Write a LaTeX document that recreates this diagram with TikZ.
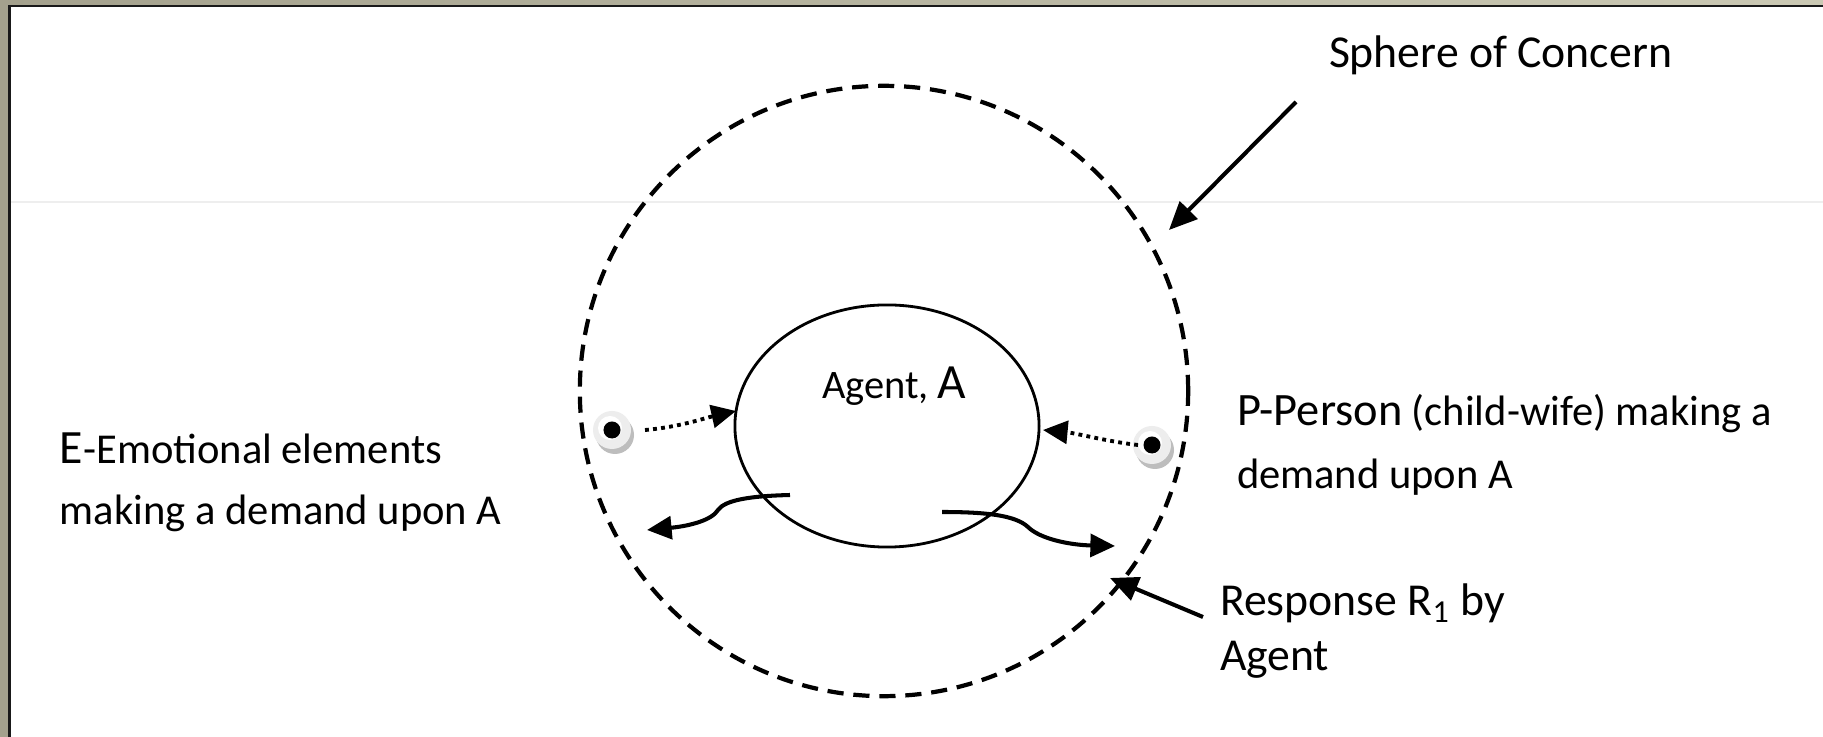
\documentclass[tikz,border=0pt]{standalone}
\usepackage{fontspec}
\setmainfont{Carlito}
\usetikzlibrary{arrows.meta,shapes.geometric}
\definecolor{frameL}{HTML}{A4A18D}
\definecolor{frameR}{HTML}{CBC9B4}
\definecolor{faintline}{HTML}{EEEEEE}
\definecolor{btnface}{HTML}{EDEDED}
\definecolor{btnshadow}{HTML}{BDBDBD}
\begin{document}
\begin{tikzpicture}[x=0.01cm,y=-0.01cm,
  txt/.style={anchor=base west,inner sep=0pt,outer sep=0pt,font=\fontsize{12.1}{14.8}\selectfont},
  bigtxt/.style={txt,font=\fontsize{13}{15.9}\selectfont},
  pointer/.style={line width=1.15pt,-{Triangle[length=8pt,width=7pt]}},
  demand/.style={line width=1.1pt,dash pattern=on 1.1pt off 1.2pt,-{Triangle[length=7pt,width=6.5pt]}},
  resp/.style={line width=1.15pt,-{Triangle[length=7pt,width=6.5pt]}},
  sphere/.style={draw,ellipse,inner sep=0pt,outer sep=0pt,line width=1.2pt,dash pattern=on 4.6pt off 2.8pt,minimum width=6.08cm,minimum height=6.1cm},
  agentc/.style={draw,ellipse,inner sep=0pt,outer sep=0pt,line width=0.8pt,minimum width=3.04cm,minimum height=2.42cm}
]
\useasboundingbox (0,0) rectangle (1823,737);
% frame
\shade[left color=frameL,right color=frameR] (0,0) rectangle (1823,737);
\fill[black!90] (8,5) rectangle (1823,737);
\fill[white] (11,7.5) rectangle (1823,737);
\draw[faintline,line width=0.5pt] (11,202) -- (1823,202);

% circles
\node[sphere] (sph) at (884,391) {};
\node[agentc] (agent) at (887,426) {};

% buttons
\foreach \nm/\cx/\cy in {ebtn/612/430, pbtn/1152/445}{
  \fill[btnshadow] (\cx+3,\cy+5) circle (19);
  \fill[btnface] (\cx,\cy) circle (19);
  \fill[white] (\cx-2,\cy-2) circle (12);
  \node[circle,fill=black,inner sep=0pt,minimum size=0.17cm] (\nm) at (\cx,\cy) {};
}

% texts
\node[bigtxt] (sphlbl) at (1329,68) {Sphere of Concern};
\node[txt] (agentlbl) at (822,399) {\fontsize{11.5}{14}\selectfont Agent, {\fontsize{14}{16}\selectfont A}};
\node[txt] (plbl1) at (1237,426) {{\fontsize{13.2}{16}\selectfont P-Person} (child-wife) making a};
\node[txt] (plbl2) at (1237,489) {demand upon A};
\node[txt] (elbl1) at (60,464) {{\fontsize{13.6}{16}\selectfont E}-Emotional elements};
\node[txt] (elbl2) at (60,525) {making a demand upon A};
\node[bigtxt] (rlbl1) at (1220,616) {Response R\textsubscript{1} by};
\node[bigtxt] (rlbl2) at (1220,671) {Agent};

% pointer arrows
\coordinate (sphtail) at (1296,102);
\coordinate (sphtip) at (1169,230);
\draw[pointer] (sphtail) -- (sphtip);
\coordinate (rtail) at (1203,617);
\coordinate (rtip) at (1110,578);
\draw[pointer] (rtail) -- (rtip);

% demand arrows
\coordinate (etip) at (736,411);
\coordinate (ptip) at (1043,430);
\draw[demand] ([xshift=0.33cm]ebtn.center) .. controls (680,427) and (705,418) .. (etip);
\draw[demand] ([xshift=-0.14cm]pbtn.center) .. controls (1110,442) and (1075,433) .. (ptip);

% response arrows
\draw[resp] (790,495) .. controls (750,496) and (725,500) .. (718,510)
  .. controls (712,520) and (690,526) .. (647,530);
\draw[resp] (942,512) .. controls (985,512) and (1015,515) .. (1028,527)
  .. controls (1040,539) and (1070,545) .. (1115,546);
\end{tikzpicture}
\end{document}
